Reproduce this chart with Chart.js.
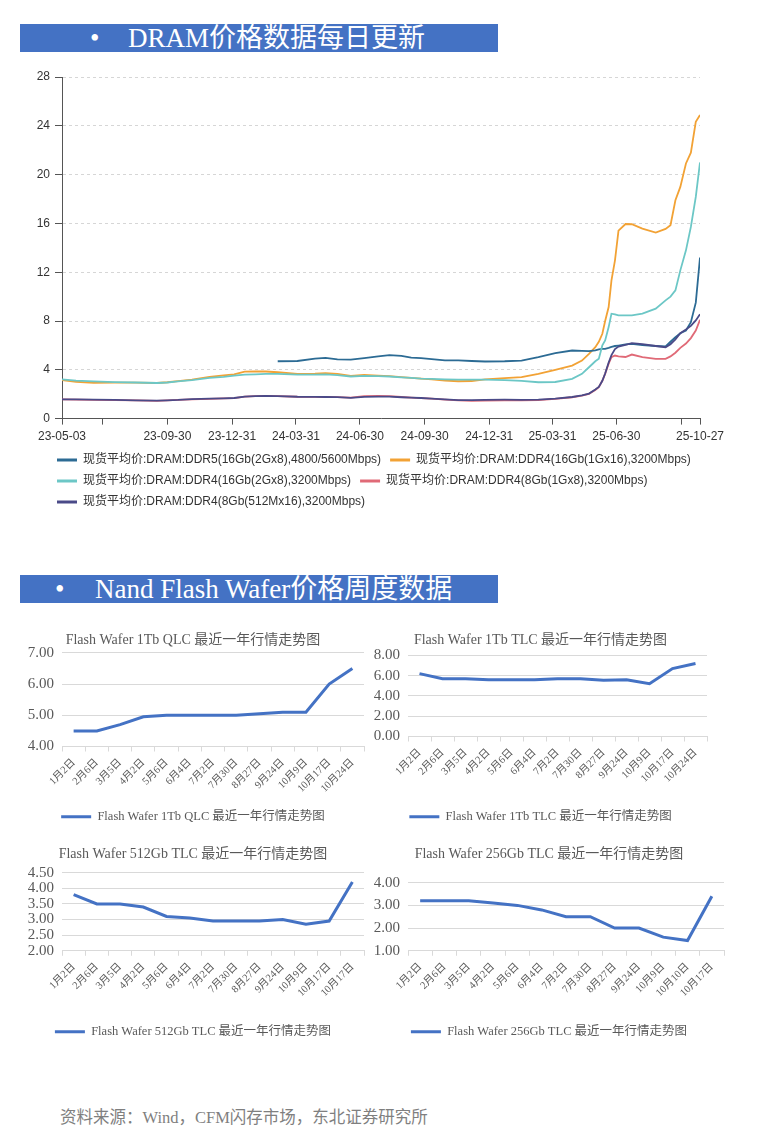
<!DOCTYPE html>
<html>
<head>
<meta charset="utf-8">
<script src="https://cdn.jsdelivr.net/npm/chart.js@4.4.1/dist/chart.umd.min.js"></script>
<style>
  body { margin: 0; background: #fff; width: 760px; height: 1136px; position: relative; overflow: hidden; }
  .bar { position: absolute; left: 20px; width: 478px; height: 28px; background: #4472c4; color: #fff;
         font: 27px "Liberation Serif", "Noto Sans CJK SC", serif; line-height: 28px; white-space: nowrap; }
  .bar span { position: absolute; top: 0; }
  canvas { position: absolute; }
  .note { position: absolute; left: 60px; top: 1104px; font: 16.5px "Liberation Serif", "Noto Sans CJK SC", serif; color: #7f7f7f; }
</style>
</head>
<body>
<div class="bar" style="top:24px"><span style="left:70px">•</span><span style="left:108px">DRAM价格数据每日更新</span></div>
<canvas id="dram" width="760" height="458" style="left:0;top:60px"></canvas>

<div class="bar" style="top:575px"><span style="left:35px">•</span><span style="left:75px">Nand Flash Wafer价格周度数据</span></div>
<canvas id="qlc1tb" width="374" height="201" style="left:0;top:632px"></canvas>
<canvas id="tlc1tb" width="345" height="201" style="left:370px;top:632px"></canvas>
<canvas id="tlc512" width="374" height="202" style="left:0;top:846px"></canvas>
<canvas id="tlc256" width="364" height="202" style="left:370px;top:846px"></canvas>

<div class="note">资料来源：Wind，CFM闪存市场，东北证券研究所</div>

<script>
// DRAM spot prices (USD)
const dramDates = [
  "2023-05-03", "2023-05-23", "2023-06-17", "2023-07-17", "2023-08-16", "2023-09-15", "2023-09-30",
  "2023-10-15", "2023-11-04", "2023-11-29", "2023-12-19", "2024-01-03", "2024-01-18", "2024-02-02",
  "2024-02-17", "2024-03-05", "2024-04-02", "2024-04-27", "2024-05-12", "2024-05-29", "2024-06-17",
  "2024-07-06", "2024-07-26", "2024-08-11", "2024-08-28", "2024-09-11", "2024-09-25", "2024-10-10",
  "2024-10-29", "2024-11-17", "2024-12-06", "2024-12-25", "2025-01-22", "2025-02-15", "2025-03-11",
  "2025-04-04", "2025-04-28", "2025-05-12", "2025-05-22", "2025-05-31", "2025-06-05", "2025-06-10",
  "2025-06-14", "2025-06-19", "2025-06-23", "2025-06-28", "2025-07-03", "2025-07-13", "2025-07-22",
  "2025-08-06", "2025-08-25", "2025-09-08", "2025-09-15", "2025-09-22", "2025-09-29", "2025-10-07",
  "2025-10-14", "2025-10-21", "2025-10-27"
];
const ddr5_16Gb = [
  null, null, null, null, null, null, null,
  null, null, null, null, null, null, null,
  null, 4.70, 4.72, 4.92, 4.97, 4.85, 4.84,
  4.96, 5.10, 5.20, 5.14, 5.00, 4.96, 4.88,
  4.78, 4.78, 4.72, 4.68, 4.70, 4.76, 5.03,
  5.36, 5.58, 5.55, 5.53, 5.60, 5.68, 5.72,
  5.72, 5.80, 5.88, 5.95, 5.99, 6.08, 6.13,
  6.02, 5.95, 5.91, 6.30, 6.68, 7.00, 7.22,
  7.90, 9.50, 13.20
];
const ddr4_16Gb_1Gx16 = [
  3.15, 3.02, 2.93, 2.95, 2.95, 2.92, 2.98,
  3.08, 3.20, 3.42, 3.55, 3.62, 3.85, 3.87,
  3.86, 3.80, 3.66, 3.68, 3.72, 3.66, 3.50,
  3.58, 3.52, 3.48, 3.40, 3.33, 3.28, 3.22,
  3.12, 3.06, 3.08, 3.22, 3.32, 3.40, 3.67,
  4.00, 4.35, 4.76, 5.31, 5.85, 6.30, 6.95,
  8.00, 9.14, 11.33, 12.97, 15.40, 15.95, 15.93,
  15.57, 15.25, 15.55, 15.85, 17.90, 18.99, 20.91,
  21.80, 24.33, 24.88
];
const ddr4_16Gb_2Gx8 = [
  3.22, 3.12, 3.05, 2.99, 2.96, 2.92, 2.96,
  3.05, 3.16, 3.33, 3.42, 3.52, 3.60, 3.63,
  3.66, 3.66, 3.61, 3.60, 3.62, 3.56, 3.45,
  3.50, 3.48, 3.45, 3.38, 3.33, 3.28, 3.26,
  3.22, 3.20, 3.19, 3.20, 3.15, 3.10, 2.98,
  3.00, 3.26, 3.67, 4.21, 4.70, 4.90, 6.00,
  6.40, 7.50, 8.60, 8.55, 8.46, 8.46, 8.46,
  8.60, 9.01, 9.69, 10.00, 10.51, 12.15, 13.79,
  15.71, 18.17, 21.00
];
const ddr4_8Gb_1Gx8 = [
  1.58, 1.56, 1.54, 1.52, 1.49, 1.46, 1.49,
  1.53, 1.58, 1.62, 1.65, 1.68, 1.80, 1.84,
  1.86, 1.84, 1.79, 1.78, 1.77, 1.76, 1.72,
  1.85, 1.86, 1.84, 1.77, 1.72, 1.68, 1.63,
  1.56, 1.50, 1.46, 1.48, 1.50, 1.50, 1.52,
  1.61, 1.75, 1.88, 2.03, 2.35, 2.57, 3.10,
  3.67, 4.50, 5.03, 5.17, 5.10, 5.05, 5.25,
  5.03, 4.90, 4.90, 5.10, 5.40, 5.80, 6.15,
  6.60, 7.22, 8.10
];
const ddr4_8Gb_512Mx16 = [
  1.58, 1.57, 1.55, 1.53, 1.50, 1.47, 1.50,
  1.53, 1.60, 1.63, 1.66, 1.69, 1.80, 1.85,
  1.86, 1.84, 1.79, 1.78, 1.77, 1.76, 1.70,
  1.78, 1.80, 1.80, 1.75, 1.72, 1.69, 1.64,
  1.58, 1.52, 1.51, 1.54, 1.55, 1.54, 1.55,
  1.63, 1.77, 1.90, 2.05, 2.38, 2.60, 3.10,
  3.70, 4.60, 5.20, 5.70, 5.90, 6.05, 6.18,
  6.10, 5.95, 5.85, 6.10, 6.50, 7.00, 7.30,
  7.60, 8.05, 8.55
];
const dramNames = [
  "现货平均价:DRAM:DDR5(16Gb(2Gx8),4800/5600Mbps)",
  "现货平均价:DRAM:DDR4(16Gb(1Gx16),3200Mbps)",
  "现货平均价:DRAM:DDR4(16Gb(2Gx8),3200Mbps)",
  "现货平均价:DRAM:DDR4(8Gb(1Gx8),3200Mbps)",
  "现货平均价:DRAM:DDR4(8Gb(512Mx16),3200Mbps)"
];
const dramColors = ["#2c6b94", "#f2a235", "#6cc7c6", "#e06a77", "#4a4a88"];
const dramTickDates = [
  "2023-05-03", "2023-06-30", "2023-09-30", "2023-12-31", "2024-03-31", "2024-06-30",
  "2024-09-30", "2024-12-31", "2025-03-31", "2025-06-30", "2025-09-30", "2025-10-27"
];
const dramTickLabels = [
  "23-05-03", "", "23-09-30", "23-12-31", "24-03-31", "24-06-30",
  "24-09-30", "24-12-31", "25-03-31", "25-06-30", "", "25-10-27"
];

// NAND flash wafer weekly prices
const qlc1tbLabels = ["1月2日", "2月6日", "3月5日", "4月2日", "5月6日", "6月4日", "7月2日", "7月30日", "8月27日", "9月24日", "10月9日", "10月17日", "10月24日"];
const qlc1tbValues = [4.5, 4.5, 4.7, 4.95, 5.0, 5.0, 5.0, 5.0, 5.05, 5.1, 5.1, 6.0, 6.5];
const tlc1tbLabels = ["1月2日", "2月6日", "3月5日", "4月2日", "5月6日", "6月4日", "7月2日", "7月30日", "8月27日", "9月24日", "10月9日", "10月17日", "10月24日"];
const tlc1tbValues = [6.2, 5.7, 5.7, 5.6, 5.6, 5.6, 5.7, 5.7, 5.55, 5.6, 5.2, 6.7, 7.2];
const tlc512Labels = ["1月2日", "2月6日", "3月5日", "4月2日", "5月6日", "6月4日", "7月2日", "7月30日", "8月27日", "9月24日", "10月9日", "10月17日", "10月17日"];
const tlc512Values = [3.8, 3.5, 3.5, 3.4, 3.1, 3.05, 2.95, 2.95, 2.95, 3.0, 2.85, 2.95, 4.2];
const tlc256Labels = ["1月2日", "2月6日", "3月5日", "4月2日", "5月6日", "6月4日", "7月2日", "7月30日", "8月27日", "9月24日", "10月9日", "10月10日", "10月17日"];
const tlc256Values = [3.2, 3.2, 3.2, 3.1, 3.0, 2.8, 2.5, 2.5, 2.0, 2.0, 1.6, 1.45, 3.4];

const SANS = '"Liberation Sans", Arial, "Noto Sans CJK SC", sans-serif';
const SERIF = '"Liberation Serif", "Noto Sans CJK SC", serif';

const startMs = Date.parse(dramDates[0]);
const dayOf = d => (Date.parse(d) - startMs) / 86400000;
const tickDays = dramTickDates.map(dayOf);

const dramSeries = [ddr5_16Gb, ddr4_16Gb_1Gx16, ddr4_16Gb_2Gx8, ddr4_8Gb_1Gx8, ddr4_8Gb_512Mx16];
// draw order: later datasets on top
const dramOrder = [3, 4, 2, 1, 0];

// nudge the bottom legend right so its rows start under the axis labels
const legendShift = {
  id: "legendShift",
  afterLayout(chart, args, opts) {
    if (chart.legend) {
      chart.legend.left += opts.dx;
      chart.legend.right += opts.dx;
    }
  }
};

new Chart(document.getElementById("dram"), {
  type: "line",
  plugins: [legendShift],
  data: {
    datasets: dramSeries.map((vals, i) => ({
      label: dramNames[i],
      data: dramDates.map((d, j) => ({ x: dayOf(d), y: vals[j] })),
      borderColor: dramColors[i],
      backgroundColor: dramColors[i],
      borderWidth: 1.8,
      pointRadius: 0,
      tension: 0,
      order: dramOrder[i]
    }))
  },
  options: {
    responsive: false,
    animation: false,
    layout: { padding: { left: 36, right: 40, top: 17, bottom: 0 } },
    scales: {
      x: {
        type: "linear",
        min: 0,
        max: tickDays[tickDays.length - 1],
        afterBuildTicks: s => { s.ticks = tickDays.map(v => ({ value: v })); },
        ticks: {
          autoSkip: false, maxRotation: 0, padding: 5, color: "#333",
          font: { family: SANS, size: 12 },
          callback: v => dramTickLabels[tickDays.indexOf(v)] || ""
        },
        grid: { drawOnChartArea: false, tickLength: 6, tickColor: "#555" },
        border: { color: "#555" },
        afterFit: s => { s.height = 26.4; }
      },
      y: {
        min: 0, max: 28,
        ticks: { stepSize: 4, padding: 5, color: "#333", font: { family: SANS, size: 12 } },
        grid: { color: "#d6d6d6", tickColor: "#555", tickLength: 7, tickBorderDash: [] },
        border: { color: "#555", dash: [3, 3] },
        afterFit: s => { s.width = 26; }
      },
      y2: {
        position: "right",
        grid: { display: false }, border: { display: false }, ticks: { display: false },
        afterFit: s => { s.width = 20; }
      }
    },
    plugins: {
      tooltip: { enabled: false },
      legendShift: { dx: 12 },
      legend: {
        position: "bottom",
        align: "start",
        labels: {
          usePointStyle: true, pointStyle: "line", pointStyleWidth: 20,
          padding: 9, color: "#333", font: { family: SANS, size: 12 },
          sort: (a, b) => a.datasetIndex - b.datasetIndex,
          generateLabels: chart => Chart.defaults.plugins.legend.labels.generateLabels(chart)
            .map(l => Object.assign(l, { lineWidth: 3 }))
        }
      }
    }
  }
});

function waferChart(id, labels, values, title, yMin, yMax, yStep, pad, titleGap, axisH) {
  return new Chart(document.getElementById(id), {
    type: "line",
    data: {
      labels: labels,
      datasets: [{
        label: title,
        data: values,
        borderColor: "#4472c4",
        backgroundColor: "#4472c4",
        borderWidth: 3,
        pointRadius: 0,
        tension: 0
      }]
    },
    options: {
      responsive: false,
      animation: false,
      layout: { padding: { left: pad[0], right: pad[1], top: 0, bottom: 0 } },
      scales: {
        x: {
          offset: true,
          ticks: {
            autoSkip: false, minRotation: 45, maxRotation: 45, padding: 5,
            color: "#595959", font: { family: SERIF, size: 10.5 }
          },
          grid: { offset: true, drawOnChartArea: false, color: "#d9d9d9", tickLength: 5 },
          border: { color: "#d9d9d9" },
          afterFit: s => { s.height = axisH; }
        },
        y: {
          min: yMin, max: yMax,
          ticks: {
            stepSize: yStep, padding: 8, autoSkip: false, color: "#595959",
            font: { family: SERIF, size: 15 },
            callback: v => v.toFixed(2)
          },
          grid: { color: "#d9d9d9", drawTicks: false },
          border: { display: false },
          afterFit: s => { s.width = pad[2]; }
        }
      },
      plugins: {
        tooltip: { enabled: false },
        title: {
          display: true, text: title, color: "#595959",
          font: { family: SERIF, size: 14, weight: "normal" },
          padding: { top: 0, bottom: titleGap }
        },
        legend: {
          position: "bottom",
          labels: {
            usePointStyle: true, pointStyle: "line", pointStyleWidth: 30,
            padding: 10, color: "#595959", font: { family: SERIF, size: 12.5 }
          }
        }
      }
    }
  });
}

waferChart("qlc1tb", qlc1tbLabels, qlc1tbValues, "Flash Wafer 1Tb QLC 最近一年行情走势图", 4, 7, 1, [22, 10, 40], 4, 54);
waferChart("tlc1tb", tlc1tbLabels, tlc1tbValues, "Flash Wafer 1Tb TLC 最近一年行情走势图", 0, 8, 2, [4, 8, 34], 6.6, 64);
waferChart("tlc512", tlc512Labels, tlc512Values, "Flash Wafer 512Gb TLC 最近一年行情走势图", 2, 4.5, 0.5, [22, 10, 40], 9.9, 64.75);
waferChart("tlc256", tlc256Labels, tlc256Values, "Flash Wafer 256Gb TLC 最近一年行情走势图", 1, 4, 1, [4, 10, 34], 19.9, 64.75);
</script>
</body>
</html>
